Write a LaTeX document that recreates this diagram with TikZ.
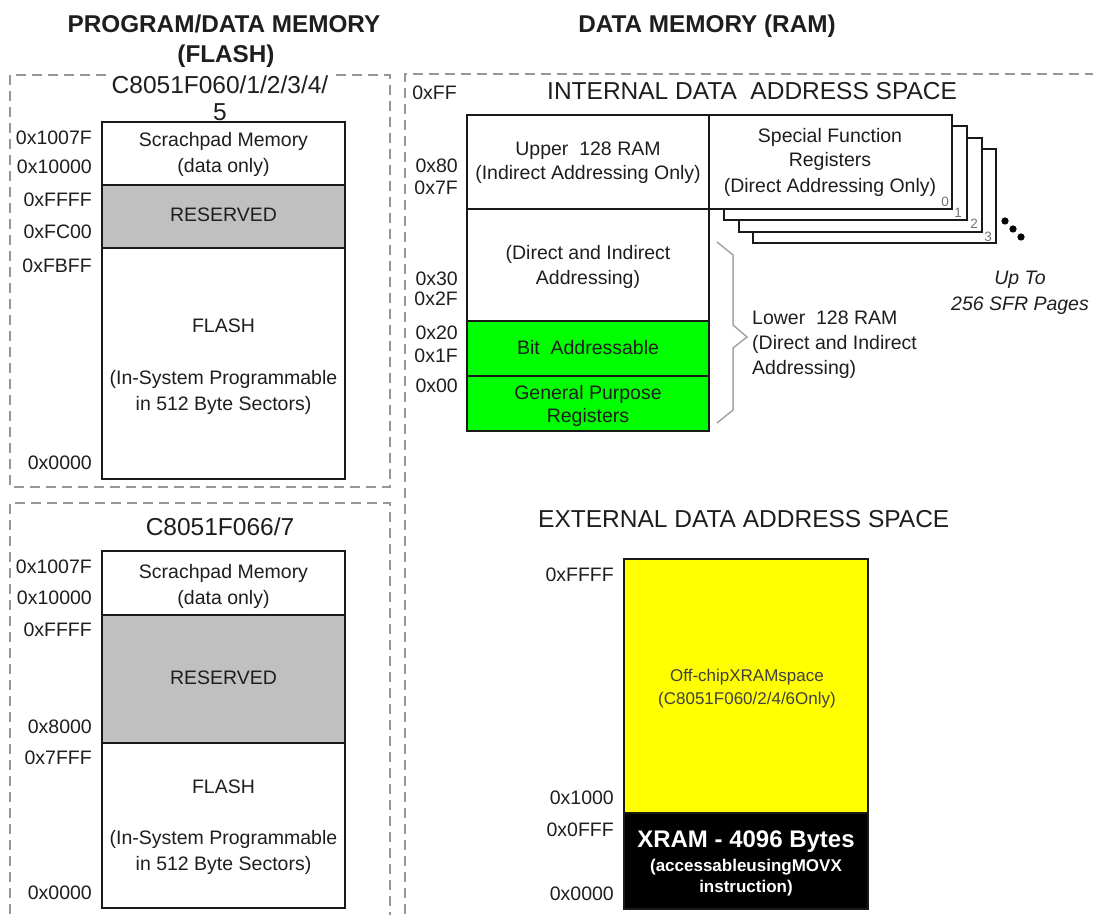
\documentclass[tikz,border=0pt]{standalone}
\usepackage{fontspec}
\setmainfont{Liberation Sans}
\newcommand\fsA{\fontsize{19.5}{23}\selectfont}
\newcommand\fsH{\fontsize{24.5}{29}\selectfont}
\newcommand\fsT{\fontsize{24.3}{29}\selectfont}
\newcommand\fsS{\fontsize{13.5}{16}\selectfont}
\newcommand\fsY{\fontsize{17}{20}\selectfont}
\newcommand\fsX{\fontsize{24}{28}\selectfont}
\definecolor{resgray}{RGB}{192,192,192}
\definecolor{ramgreen}{RGB}{0,255,0}
\definecolor{xyellow}{RGB}{255,255,0}
\definecolor{dashgray}{RGB}{150,150,150}
\definecolor{bracegray}{RGB}{165,165,165}
\definecolor{inkc}{RGB}{30,30,30}
\begin{document}
\begin{tikzpicture}[x=1pt,y=-1pt,
  every node/.style={inner sep=0pt, text=inkc},
  dbox/.style={draw=dashgray, line width=1.8pt, dash pattern=on 10pt off 6pt},
  mbox/.style={draw=black!90, line width=2.6pt},
  addr/.style={anchor=base east, font=\fsA},
  txt/.style={anchor=base, font=\fsA},
  hd/.style={anchor=base, font=\fsH},
  ttl/.style={anchor=base, font=\fsT\bfseries},
  pgnum/.style={anchor=base, font=\fsS, text=black!55}]
\useasboundingbox (0,0) rectangle (1093,915);
\clip (0,0) rectangle (1093,915);
\fill[white] (0,0) rectangle (1093,915);

% titles
\node[ttl] (t1) at (224,33) {PROGRAM/DATA MEMORY};
\node[ttl] (t2) at (226,63) {(FLASH)};
\node[ttl] (t3) at (707,33) {DATA MEMORY (RAM)};

% ---------- upper left ----------
\draw[dbox] (10,75) rectangle (390,487);
\node[hd, fill=white, inner xsep=2pt, inner ysep=3pt] (h1) at (220,93.5) {C8051F060/1/2/3/4/};
\node[hd] (h1b) at (220,121) {5};
\draw[mbox] (102,122) rectangle (345,185);
\draw[mbox, fill=resgray] (102,185) rectangle (345,248);
\draw[mbox] (102,248) rectangle (345,479);
\node[addr] (a11) at (92,145) {0x1007F};
\node[addr] (a12) at (92,174) {0x10000};
\node[addr] (a13) at (92,207) {0xFFFF};
\node[addr] (a14) at (92,238) {0xFC00};
\node[addr] (a15) at (92,272) {0xFBFF};
\node[addr] (a16) at (92,469) {0x0000};
\node[txt] (s11) at (223.5,147) {Scrachpad Memory};
\node[txt] (s12) at (223.5,173) {(data only)};
\node[txt] (r1) at (223.5,222) {RESERVED};
\node[txt] (f11) at (223.5,332) {FLASH};
\node[txt] (f12) at (223.5,384) {(In-System Programmable};
\node[txt] (f13) at (223.5,410) {in 512 Byte Sectors)};

% ---------- lower left ----------
\draw[dbox] (10,930) -- (10,503) -- (390,503) -- (390,930);
\node[hd] (h2) at (220,535.5) {C8051F066/7};
\draw[mbox] (102,551) rectangle (345,615);
\draw[mbox, fill=resgray] (102,615) rectangle (345,743);
\draw[mbox] (102,743) rectangle (345,908);
\node[addr] (a21) at (92,573) {0x1007F};
\node[addr] (a22) at (92,604) {0x10000};
\node[addr] (a23) at (92,636) {0xFFFF};
\node[addr] (a24) at (92,733) {0x8000};
\node[addr] (a25) at (92,764) {0x7FFF};
\node[addr] (a26) at (92,899) {0x0000};
\node[txt] (s21) at (223.5,578) {Scrachpad Memory};
\node[txt] (s22) at (223.5,604) {(data only)};
\node[txt] (r2) at (223.5,684) {RESERVED};
\node[txt] (f21) at (223.5,793) {FLASH};
\node[txt] (f22) at (223.5,844) {(In-System Programmable};
\node[txt] (f23) at (223.5,870) {in 512 Byte Sectors)};

% ---------- right: internal ----------
\draw[dbox] (405,930) -- (405,74) -- (1100,74);
\node[hd, anchor=base west] (hi) at (547,100) {INTERNAL DATA~~ADDRESS SPACE};
\node[addr] (b0) at (457,100) {0xFF};
\node[addr] (b1) at (458,172) {0x80};
\node[addr] (b2) at (458,194) {0x7F};
\node[addr] (b3) at (458,285) {0x30};
\node[addr] (b4) at (458,305) {0x2F};
\node[addr] (b5) at (458,339) {0x20};
\node[addr] (b6) at (458,362) {0x1F};
\node[addr] (b7) at (458,392) {0x00};

% SFR pages (back to front)
\draw[mbox, fill=white] (753,149) rectangle (996,243);
\draw[mbox, fill=white] (739,138) rectangle (982,232);
\draw[mbox, fill=white] (724,126) rectangle (967,220);
\draw[mbox, fill=white] (709,115) rectangle (952,209);
\node[pgnum] (p3) at (988,241) {3};
\node[pgnum] (p2) at (974,229) {2};
\node[pgnum] (p1) at (958,218) {1};
\node[pgnum] (p0) at (945,207) {0};

% main internal RAM
\draw[mbox] (467,115) rectangle (709,209);
\draw[mbox] (467,209) rectangle (709,321);
\draw[mbox, fill=ramgreen] (467,321) rectangle (709,376);
\draw[mbox, fill=ramgreen] (467,376) rectangle (709,431);
\node[txt] (u1) at (588,156) {Upper~~128 RAM};
\node[txt] (u2) at (588,180) {(Indirect Addressing Only)};
\node[txt] (d1) at (588,259) {(Direct and Indirect};
\node[txt] (d2) at (588,284) {Addressing)};
\node[txt] (ba) at (588,354) {Bit~~Addressable};
\node[txt] (g1) at (588,399) {General Purpose};
\node[txt] (g2) at (588,422) {Registers};
\node[txt] (sf1) at (830,143) {Special Function};
\node[txt] (sf2) at (830,167) {Registers};
\node[txt] (sf3) at (830,193) {(Direct Addressing Only)};

% dots
\fill[black] (1005,221) circle (3.6);
\fill[black] (1013,229) circle (3.6);
\fill[black] (1021,237) circle (3.6);
\node[txt, font=\fsA\itshape] (up1) at (1020,284) {Up To};
\node[txt, font=\fsA\itshape] (up2) at (1020,310) {256 SFR Pages};

% brace
\draw[bracegray, line width=1.5pt, line join=miter]
  (717,242) -- (733,255) -- (733,325) -- (747,337) -- (733,348) -- (733,410) -- (717,423);
\node[txt, anchor=base west] (l1) at (752,324) {Lower~~128 RAM};
\node[txt, anchor=base west] (l2) at (752,349) {(Direct and Indirect};
\node[txt, anchor=base west] (l3) at (752,374) {Addressing)};

% ---------- external ----------
\node[hd, anchor=base west] (he) at (538,527) {EXTERNAL DATA ADDRESS SPACE};
\draw[mbox, fill=xyellow] (624,559) rectangle (868,813);
\draw[mbox, fill=black] (624,813) rectangle (868,909);
\node[addr] (e1) at (614,581) {0xFFFF};
\node[addr] (e2) at (614,804) {0x1000};
\node[addr] (e3) at (614,836) {0x0FFF};
\node[addr] (e4) at (614,900) {0x0000};
\node[anchor=base, font=\fsY, text=black!75] (y1) at (747,681) {Off-chipXRAMspace};
\node[anchor=base, font=\fsY, text=black!75] (y2) at (747,704) {(C8051F060/2/4/6Only)};
\node[anchor=base, font=\fsX\bfseries, text=white] (x1) at (746,847) {XRAM - 4096 Bytes};
\node[anchor=base, font=\fsY\bfseries, text=white] (x2) at (746,871) {(accessableusingMOVX};
\node[anchor=base, font=\fsY\bfseries, text=white] (x3) at (746,892) {instruction)};
\end{tikzpicture}
\end{document}
